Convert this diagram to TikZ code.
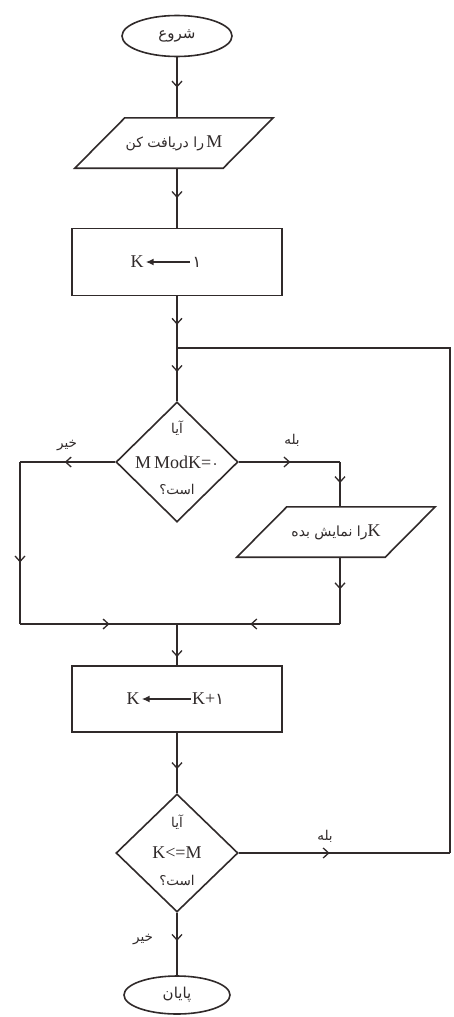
\documentclass[tikz,border=0pt]{standalone}
\usepackage{fontspec}
\setmainfont{Liberation Serif}
\newfontfamily\ar[Script=Arabic]{DejaVu Sans}
\TeXXeTstate=1
\usetikzlibrary{shapes.geometric,arrows.meta,decorations.markings,calc}
\definecolor{ink}{HTML}{302A2A}
\begin{document}
\begin{tikzpicture}[x=1pt,y=-1pt,
  line/.style={draw=ink, line width=1.6pt},
  marr/.style={postaction={decorate, decoration={markings, mark=at position #1 with {\arrow{Straight Barb[length=5.5pt,width=10pt,line width=1.3pt]}}}}},
  terminal/.style={ellipse, draw=ink, line width=1.6pt, minimum width=110pt, minimum height=41pt, inner sep=0pt, text=ink, font=\ar\fontsize{15}{17}\selectfont},
  proc/.style={rectangle, draw=ink, line width=1.6pt, minimum width=210pt, minimum height=67pt, inner sep=0pt},
  dec/.style={diamond, draw=ink, line width=1.6pt, minimum width=122pt, minimum height=120pt, inner sep=0pt},
  io/.style={rectangle, minimum width=148pt, minimum height=50pt, inner sep=0pt, text=ink, font=\fontsize{14}{16}\selectfont},
  lat/.style={inner sep=0pt, text=ink, font=\fontsize{18}{20}\selectfont},
  fa/.style={inner sep=0pt, text=ink, font=\ar\fontsize{13.5}{15}\selectfont},
  lbl/.style={inner sep=0pt, text=ink, font=\ar\fontsize{13.5}{15}\selectfont},
  tip/.style={draw=ink, line width=1.5pt, -{Latex[length=8pt,width=7pt]}}
]
\useasboundingbox[fill=white] (0,0) rectangle (453,1017);

% nodes
\node[terminal] (start) at (177,36) {\beginR شروع\endR};
\node[io] (in1) at (174,143) {{\ar\beginR را دریافت کن\endR}\,{\fontsize{18}{19}\selectfont M}};
\draw[line] ([xshift=-25pt]in1.south west) -- ([xshift=-25pt]in1.south east)
  -- ([xshift=25pt]in1.north east) -- ([xshift=25pt]in1.north west) -- cycle;

\node[proc] (box1) at (177,262) {};
\node[lat] (k1) at (137,262) {K};
\node[lat] (one1) at (197,262) {\ar\fontsize{16}{17}\selectfont ۱};
\draw[tip] ([xshift=-3pt]one1.west) -- ([xshift=2pt]k1.east);

\coordinate (J1) at (177,348);
\node[dec] (d1) at (177,462) {};
\node[fa] (d1a) at (177,428) {\beginR آیا\endR};
\node[lat] (d1b) at (177,462) {M\,ModK={\ar\fontsize{14}{14}\selectfont ۰}};
\node[fa] (d1c) at (177,489) {\beginR است؟\endR};

\node[io] (out) at (336,532) {{\ar\beginR را نمایش بده\endR}{\fontsize{18}{19}\selectfont K}};
\draw[line] ([xshift=-25pt]out.south west) -- ([xshift=-25pt]out.south east)
  -- ([xshift=25pt]out.north east) -- ([xshift=25pt]out.north west) -- cycle;

\coordinate (J2) at (177,624);
\node[proc, minimum height=66pt] (box2) at (177,699) {};
\node[lat] (k2) at (133,699) {K};
\node[lat] (kp1) at (208,699) {K+{\ar\fontsize{16}{17}\selectfont ۱}};
\draw[tip] ([xshift=-1pt]kp1.west) -- ([xshift=2pt]k2.east);

\node[dec, minimum height=118pt] (d2) at (177,853) {};
\node[fa] (d2a) at (177,822) {\beginR آیا\endR};
\node[lat] (d2b) at (177,853) {K<=M};
\node[fa] (d2c) at (177,880) {\beginR است؟\endR};

\node[terminal, minimum height=38pt, minimum width=106pt] (end) at (177,995) {\beginR پایان\endR};

\coordinate (c1) at (20,462);
\coordinate (c2) at (20,624);
\coordinate (c3) at (340,462);
\coordinate (c4) at (340,624);
\coordinate (c5) at (450,853);
\coordinate (c6) at (450,348);

% connectors
\draw[line, marr=0.5] (start.south) -- (start.south |- in1.north);
\draw[line, marr=0.5] (box1.north |- in1.south) -- (box1.north);
\draw[line, marr=0.55] (box1.south) -- (J1);
\draw[line, marr=0.45] (J1) -- (d1.north);
\draw[line, marr=0.53] (d1.west) -- (c1);
\draw[line, marr=0.62] (c1) -- (c2);
\draw[line, marr=0.57] (c2) -- (J2);
\draw[line, marr=0.51] (d1.east) -- (c3);
\draw[line, marr=0.47] (c3) -- (c3 |- out.north);
\draw[line, marr=0.48] (c3 |- out.south) -- (c4);
\draw[line, marr=0.55] (c4) -- (J2);
\draw[line, marr=0.8] (J2) -- (box2.north);
\draw[line, marr=0.6] (box2.south) -- (d2.north);
\draw[line, marr=0.43] (d2.east) -- (c5);
\draw[line] (c5) -- (c6) -- (J1);
\draw[line, marr=0.45] (d2.south) -- (end.north);

% labels
\node[lbl] (l1) at (67,446) {\beginR خیر\endR};
\node[lbl] (l2) at (292,440) {\beginR بله\endR};
\node[lbl] (l3) at (325,836) {\beginR بله\endR};
\node[lbl] (l4) at (143,940) {\beginR خیر\endR};
\end{tikzpicture}
\end{document}
